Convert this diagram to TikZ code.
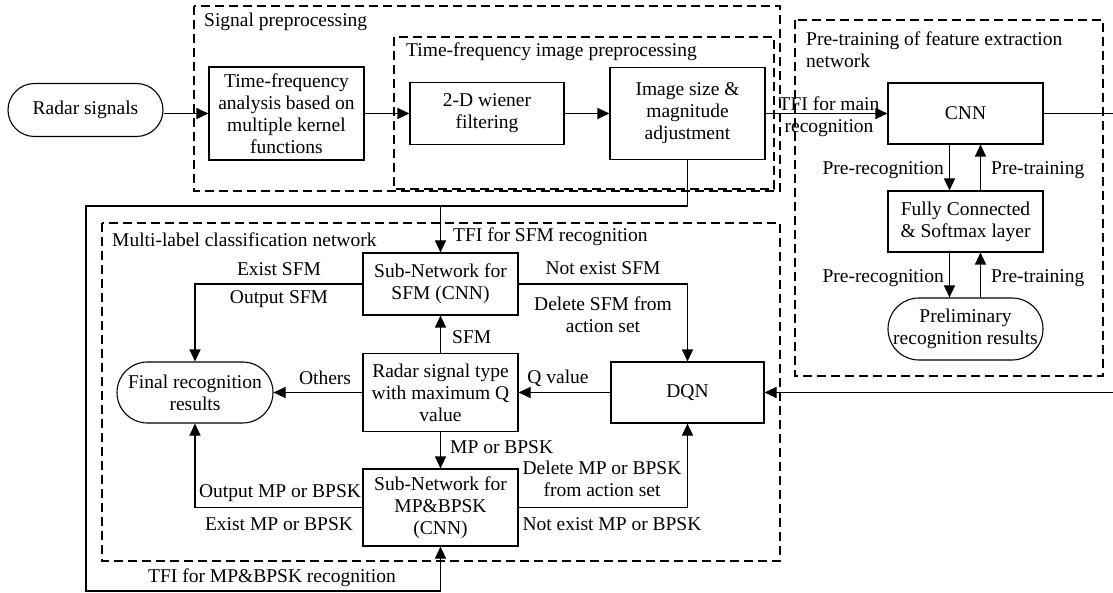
\documentclass[tikz,border=0pt]{standalone}
\usepackage{fontspec}
\setmainfont{Liberation Serif}
\usetikzlibrary{arrows.meta}
\tikzset{
  box/.style={draw, line width=1.1pt, inner sep=0pt, align=center, fill=white},
  term/.style={box},
  grp/.style={draw, line width=1.1pt, dash pattern=on 9pt off 5pt},
  lbl/.style={inner sep=0pt, align=center},
  lbll/.style={inner sep=0pt, align=left, anchor=west},
  conn/.style={line width=1.1pt},
  arr/.style={conn, -{Triangle[length=12pt,width=11pt]}}
}
\begin{document}
\begin{tikzpicture}[x=1pt,y=-1pt, font=\fontsize{19.5}{22}\selectfont]
\useasboundingbox (0,0) rectangle (1113,593);

% group boxes
\draw[grp] (194,6) rectangle (780,191);
\draw[grp] (394,37) rectangle (774,189);
\draw[grp] (795,20) rectangle (1103,376);
\draw[grp] (102,223) rectangle (780,561);

\node[lbll] (gsig) at (204,22) {Signal preprocessing};
\node[lbll] (gtfi) at (406,52) {Time-frequency image preprocessing};
\node[lbll] (gpre) at (806,50) {Pre-training of feature extraction\\network};
\node[lbll] (gmul) at (112,240) {Multi-label classification network};

% nodes
\node[term, rounded corners=26.5pt, minimum width=155pt, minimum height=53pt] (radar) at (85.5,110) {Radar signals};
\node[box, minimum width=155pt, minimum height=93pt] (tf) at (286.5,113.5) {Time-frequency\\analysis based on\\multiple kernel\\functions};
\node[box, minimum width=154pt, minimum height=62pt] (wiener) at (487,113.5) {2-D wiener\\filtering};
\node[box, minimum width=155pt, minimum height=92pt] (image) at (687.5,113.5) {Image size \&\\magnitude\\adjustment};
\node[box, minimum width=155pt, minimum height=61pt] (cnn) at (965.5,113.5) {CNN};
\node[box, minimum width=155pt, minimum height=61pt] (fc) at (965.5,221.5) {Fully Connected\\\& Softmax layer};
\node[term, rounded corners=31pt, minimum width=155pt, minimum height=62pt] (prelim) at (965.5,329) {Preliminary\\recognition results};

\node[box, minimum width=155pt, minimum height=62pt] (sfm) at (440.5,284) {Sub-Network for\\SFM (CNN)};
\node[box, minimum width=155pt, minimum height=78pt] (rtype) at (440.5,392.5) {Radar signal type\\with maximum Q\\value};
\node[box, minimum width=155pt, minimum height=77pt] (mp) at (440.5,507.5) {Sub-Network for\\MP\&BPSK\\(CNN)};
\node[term, rounded corners=30.5pt, minimum width=156pt, minimum height=61pt] (final) at (195,392.5) {Final recognition\\results};
\node[box, minimum width=153pt, minimum height=61pt] (dqn) at (687.5,392.5) {DQN};

% coordinates
\coordinate (rEdge) at (1113,113.5);
\coordinate (inR) at (1113,392.5);
\coordinate (c1) at (86,206);
\coordinate (c2) at (86,591);

% connectors
\draw[arr] (radar.east |- tf.west) -- (tf.west);
\draw[arr] (tf.east) -- (wiener.west);
\draw[arr] (wiener.east) -- (image.west);
\draw[arr] (image.east) -- (cnn.west);
\draw[conn] (cnn.east) -- (rEdge);
\draw[arr] ([xshift=-16pt]cnn.south) -- ([xshift=-16pt]fc.north);
\draw[arr] ([xshift=15pt]fc.north) -- ([xshift=15pt]cnn.south);
\draw[arr] ([xshift=-16pt]fc.south) -- ([xshift=-16pt]prelim.north);
\draw[arr] ([xshift=15pt]prelim.north) -- ([xshift=15pt]fc.south);
\draw[arr] (inR) -- (dqn.east);

\draw[arr] (image.south) |- (c1) -- (c2) -| (mp.south);
\draw[arr] (sfm.north |- c1) -- (sfm.north);
\draw[arr] (sfm.west) -| (final.north);
\draw[arr] (sfm.east) -| (dqn.north);
\draw[arr] (rtype.north) -- (sfm.south);
\draw[arr] (rtype.west) -- (final.east);
\draw[arr] (dqn.west) -- (rtype.east);
\draw[arr] (rtype.south) -- (mp.north);
\draw[arr] (mp.west) -| (final.south);
\draw[arr] (mp.east) -| (dqn.south);

% labels
\node[lbl] (lmain) at (829,117) {TFI for main\\recognition};
\node[lbl, anchor=east] (lpr1) at (944,170) {Pre-recognition};
\node[lbll] (lpt1) at (991,170) {Pre-training};
\node[lbl, anchor=east] (lpr2) at (944,278) {Pre-recognition};
\node[lbll] (lpt2) at (991,278) {Pre-training};

\node[lbll] (lsfmin) at (453,237) {TFI for SFM recognition};
\node[lbl] (lex) at (279,269) {Exist SFM};
\node[lbl] (lout) at (279,299) {Output SFM};
\node[lbl] (lnex) at (603,268) {Not exist SFM};
\node[lbl] (ldel) at (603,315) {Delete SFM from\\action set};
\node[lbll] (lsfm) at (452,337) {SFM};
\node[lbl] (loth) at (325,378) {Others};
\node[lbl] (lq) at (558,378) {Q value};
\node[lbll] (lmp) at (450,447) {MP or BPSK};
\node[lbl] (lomp) at (280,493) {Output MP or BPSK};
\node[lbl] (lemp) at (279,524) {Exist MP or BPSK};
\node[lbl] (ldmp) at (602,478.5) {Delete MP or BPSK\\from action set};
\node[lbl] (lnmp) at (612,524) {Not exist MP or BPSK};
\node[lbl] (lmpin) at (272,578) {TFI for MP\&BPSK recognition};
\end{tikzpicture}
\end{document}
